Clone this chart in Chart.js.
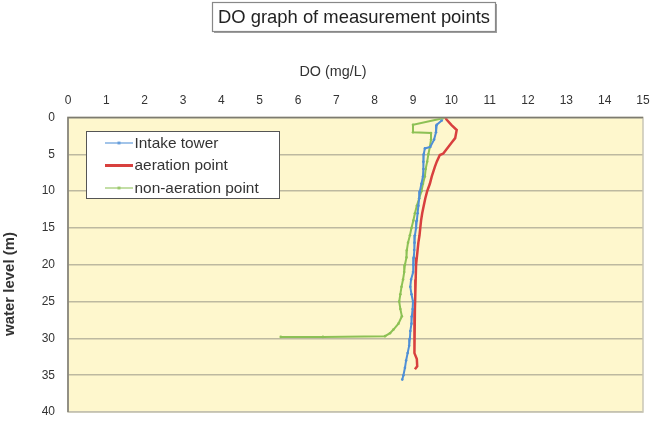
<!DOCTYPE html>
<html>
<head>
<meta charset="utf-8">
<script src="https://cdn.jsdelivr.net/npm/chart.js@4.4.1/dist/chart.umd.min.js"></script>
<style>
  html, body { margin: 0; padding: 0; background: #fff; }
  #wrap { width: 654px; height: 423px; position: relative; }
</style>
</head>
<body>
<div id="wrap"><canvas id="doChart"></canvas></div>
<script>
// Chart texts
const chartTitle = 'DO graph of measurement points';
const xTitle = 'DO (mg/L)';
const yTitle = 'water level (m)';
const seriesNames = ['Intake tower', 'aeration point', 'non-aeration point'];

// Intake tower (blue)
const intakeDepth = [0.4, 1, 2, 3, 4, 4.2, 5, 6, 7, 8, 9, 10, 11, 12, 13, 14, 15, 16, 17, 18, 19, 20, 21, 22, 23, 24, 25, 26, 27, 28, 29, 30, 31, 32, 33, 34, 35, 35.6];
const intakeDO = [9.75, 9.62, 9.6, 9.55, 9.45, 9.31, 9.28, 9.27, 9.27, 9.26, 9.22, 9.18, 9.16, 9.14, 9.12, 9.1, 9.08, 9.05, 9.04, 9.03, 9.02, 9.01, 9.0, 8.95, 8.93, 8.96, 9.0, 8.99, 8.97, 8.96, 8.93, 8.92, 8.9, 8.86, 8.82, 8.79, 8.75, 8.72];

// aeration point (red)
const aerDepth = [0, 0.3, 1, 1.7, 2.8, 3.4, 4, 4.9, 5.1, 6, 6.7, 8, 9, 10, 11, 12, 13, 14, 15, 16, 17, 18, 19, 20, 22, 24, 26, 28, 30, 31, 32, 32.8, 33.8, 34.2];
const aerDO = [9.84, 9.88, 10.0, 10.14, 10.1, 10.01, 9.92, 9.79, 9.7, 9.62, 9.57, 9.49, 9.44, 9.37, 9.32, 9.28, 9.24, 9.21, 9.19, 9.17, 9.14, 9.12, 9.1, 9.08, 9.07, 9.06, 9.05, 9.05, 9.04, 9.03, 9.03, 9.1, 9.11, 9.05];

// non-aeration point (green)
const nonDepth = [0.1, 1, 2, 2.1, 3, 4, 5, 6, 7, 8, 9, 10, 11, 12, 13, 14, 15, 16, 17, 18, 19, 20, 21, 22, 23, 24, 25, 26, 27, 28, 28.8, 29.3, 29.7, 29.8, 29.8];
const nonDO = [9.78, 9.0, 9.0, 9.47, 9.47, 9.44, 9.4, 9.37, 9.33, 9.31, 9.26, 9.22, 9.16, 9.1, 9.05, 9.01, 8.96, 8.92, 8.87, 8.84, 8.83, 8.79, 8.77, 8.74, 8.7, 8.67, 8.64, 8.67, 8.71, 8.62, 8.49, 8.4, 8.27, 6.65, 5.55];

const colors = ['#4f8fd6', '#d8403e', '#8dc155'];
const FONT = '"Liberation Sans", Arial, sans-serif';

function toPoints(depth, values) {
    return depth.map((d, i) => ({ x: values[i], y: d }));
}

// підбір розміру шрифту під ширину тексту
function fitFont(ctx, text, width, weight) {
    ctx.font = `${weight} 20px ${FONT}`;
    const size = 20 * width / ctx.measureText(text).width;
    return `${weight} ${size.toFixed(2)}px ${FONT}`;
}

// фон області графіка, рамка, заголовок та легенда
const decorPlugin = {
    id: 'decor',
    beforeDraw(chart) {
        const { ctx, chartArea: a } = chart;
        ctx.save();
        ctx.fillStyle = '#fef7cd';
        ctx.fillRect(a.left, a.top, a.right - a.left, a.bottom - a.top);
        ctx.restore();
    },
    afterDatasetsDraw(chart) {
        const { ctx, chartArea: a } = chart;
        ctx.save();
        // рамка
        ctx.strokeStyle = '#c9c6b6';
        ctx.lineWidth = 1.5;
        ctx.strokeRect(a.left, a.top, a.right - a.left, a.bottom - a.top);
        ctx.strokeStyle = '#7d7b70';
        ctx.beginPath();
        ctx.moveTo(a.left, a.bottom);
        ctx.lineTo(a.left, a.top);
        ctx.lineTo(a.right, a.top);
        ctx.stroke();

        // легенда
        ctx.fillStyle = '#ffffff';
        ctx.fillRect(86, 131, 193, 67);
        ctx.strokeStyle = '#555';
        ctx.lineWidth = 1;
        ctx.strokeRect(86.5, 131.5, 193, 67);
        const rows = [143, 165.5, 188];
        ctx.font = fitFont(ctx, seriesNames[0], 84, 'normal');
        ctx.textBaseline = 'middle';
        chart.data.datasets.forEach((ds, i) => {
            const y = rows[i];
            ctx.strokeStyle = ds.borderColor;
            ctx.lineWidth = i === 1 ? 3 : 1.5;
            ctx.globalAlpha = i === 1 ? 1 : 0.7;
            ctx.beginPath();
            ctx.moveTo(105, y);
            ctx.lineTo(133, y);
            ctx.stroke();
            if (i !== 1) {
                ctx.fillStyle = ds.borderColor;
                ctx.fillRect(117.5, y - 1.5, 3, 3);
            }
            ctx.globalAlpha = 1;
            ctx.fillStyle = '#333';
            ctx.fillText(ds.label, 134.5, y + 0.5);
        });
        ctx.restore();
    },
    afterDraw(chart) {
        const { ctx } = chart;
        ctx.save();
        // заголовок у рамці
        ctx.fillStyle = '#a0a0a0';
        ctx.fillRect(214, 4, 283, 29);
        ctx.fillStyle = '#fff';
        ctx.fillRect(212, 2, 283, 29);
        ctx.strokeStyle = '#888';
        ctx.lineWidth = 1.2;
        ctx.strokeRect(212.5, 2.5, 283, 29);
        ctx.fillStyle = '#222';
        ctx.font = fitFont(ctx, chartTitle, 272, 'normal');
        ctx.textAlign = 'center';
        ctx.textBaseline = 'middle';
        ctx.fillText(chartTitle, 354, 17.5);

        ctx.fillStyle = '#333';
        ctx.font = fitFont(ctx, xTitle, 67, 'normal');
        ctx.fillText(xTitle, 333, 72.5);

        ctx.translate(10, 284);
        ctx.rotate(-Math.PI / 2);
        ctx.font = fitFont(ctx, yTitle, 104, 'bold');
        ctx.fillText(yTitle, 0, 0);
        ctx.restore();
    }
};

const ctx = document.getElementById('doChart').getContext('2d');
const doChart = new Chart(ctx, {
    type: 'scatter',
    data: {
        datasets: [
            {
                label: seriesNames[0],
                data: toPoints(intakeDepth, intakeDO),
                borderColor: colors[0],
                backgroundColor: colors[0],
                borderWidth: 2,
                pointRadius: 1.3,
                pointBorderWidth: 0,
                showLine: true
            },
            {
                label: seriesNames[1],
                data: toPoints(aerDepth, aerDO),
                borderColor: colors[1],
                backgroundColor: colors[1],
                borderWidth: 2.5,
                pointRadius: 0,
                showLine: true
            },
            {
                label: seriesNames[2],
                data: toPoints(nonDepth, nonDO),
                borderColor: colors[2],
                backgroundColor: colors[2],
                borderWidth: 2,
                pointRadius: 1.3,
                pointBorderWidth: 0,
                showLine: true
            }
        ]
    },
    options: {
        responsive: true,
        maintainAspectRatio: false,
        animation: false,
        layout: { padding: { left: 0, top: 0, right: 11, bottom: 11 } },
        scales: {
            x: {
                type: 'linear',
                position: 'top',
                min: 0,
                max: 15,
                ticks: { stepSize: 1, color: '#333', font: { size: 12, family: FONT }, padding: 10 },
                grid: { display: false, drawTicks: false },
                border: { display: false },
                afterFit(scale) {
                    scale.height = 117.5;
                    scale.paddingLeft = 0;
                    scale.paddingRight = 0;
                }
            },
            y: {
                type: 'linear',
                reverse: true,
                min: 0,
                max: 40,
                ticks: { stepSize: 5, color: '#333', font: { size: 12, family: FONT }, padding: 13 },
                grid: { color: '#bdb9a0', lineWidth: 1.5, drawTicks: false },
                border: { display: false },
                afterFit(scale) {
                    scale.width = 68;
                    scale.paddingTop = 0;
                    scale.paddingBottom = 0;
                }
            }
        },
        plugins: {
            legend: { display: false },
            tooltip: { enabled: false }
        }
    },
    plugins: [decorPlugin]
});
</script>
</body>
</html>
